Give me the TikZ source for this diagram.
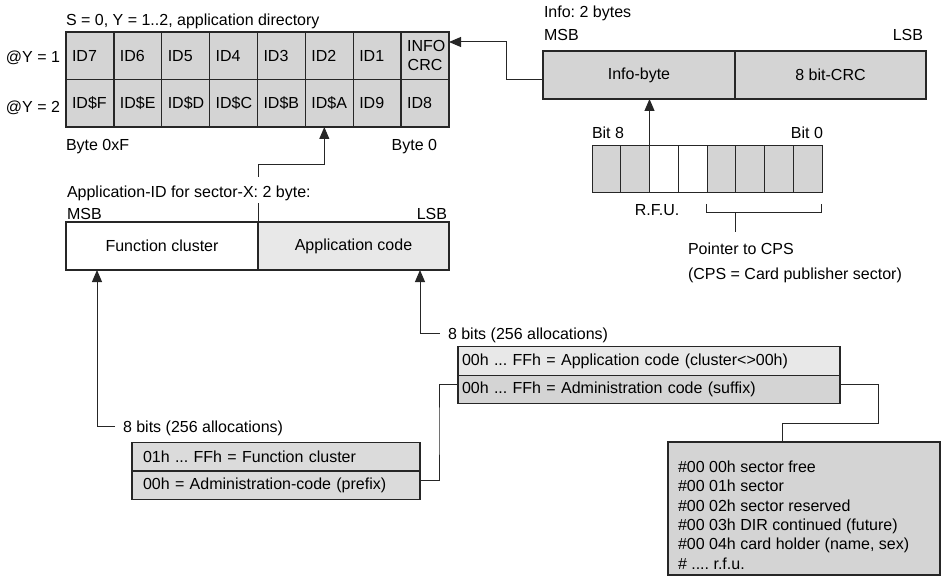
\documentclass[tikz,border=0pt]{standalone}
\usepackage{fontspec}
\setmainfont{Liberation Sans}
\usetikzlibrary{arrows.meta,calc}
\definecolor{cellgray}{gray}{0.83}
\definecolor{lightgray}{gray}{0.91}
\definecolor{midgray}{gray}{0.86}
\definecolor{linecol}{gray}{0.15}
\frenchspacing
\begin{document}
\begin{tikzpicture}[x=1pt,y=-1pt,
  every node/.style={font=\fontsize{16}{19.3}\selectfont},
  box/.style={draw=linecol,line width=1.3pt,inner sep=0pt,outer sep=0pt},
  cell/.style={box,fill=cellgray,minimum width=47.875pt,minimum height=47.5pt,text width=35.875pt,inner xsep=6pt,align=left},
  bitcell/.style={box,line width=1pt,fill=cellgray,minimum width=28.75pt,minimum height=47pt},
  halfbox/.style={box,minimum height=48pt},
  rowbox/.style={box,minimum height=28.5pt,align=left},
  lbl/.style={inner sep=0pt,outer sep=0pt},
  conn/.style={line width=1pt,draw=linecol},
  arr/.style={conn,-{Triangle[length=12pt,width=10pt]}}
]
\useasboundingbox (0,0) rectangle (941,577);

% application directory grid
\foreach \t [count=\i] in {ID7,ID6,ID5,ID4,ID3,ID2,ID1}
  \node[cell] (a\i) at ({66+47.875*(\i-0.5)},55.75) {\t};
\node[cell,align=center] (a8) at ({66+47.875*7.5},55.75) {INFO\\CRC};
\foreach \t [count=\i] in {ID\$F,ID\$E,ID\$D,ID\$C,ID\$B,ID\$A,ID9,ID8}
  \node[cell] (b\i) at ({66+47.875*(\i-0.5)},103.25) {\t};

\node[lbl,anchor=base west] (ttl) at (66,26) {S = 0, Y = 1..2, application directory};
\node[lbl,anchor=base east] (y1) at (60,63) {@Y = 1};
\node[lbl,anchor=base east] (y2) at (60,112.5) {@Y = 2};
\node[lbl,anchor=base west] (bytef) at (66,151) {Byte 0xF};
\node[lbl,anchor=base east] (byte0) at (437,151) {Byte 0};

% info bytes
\node[lbl,anchor=base west] (info) at (544,18) {Info: 2 bytes};
\node[lbl,anchor=base west] (msb1) at (544,41) {MSB};
\node[lbl,anchor=base east] (lsb1) at (923,41) {LSB};
\node[halfbox,fill=cellgray,minimum width=192pt] (ib) at (639,75) {Info-byte};
\node[halfbox,fill=cellgray,minimum width=191pt] (crc) at (830.5,75) {8 bit-CRC};

% bits
\foreach \i in {1,...,8}
  \node[bitcell] (t\i) at ({592+28.75*(\i-0.5)},169.5) {};
\node[bitcell,fill=white] at (t3) {};
\node[bitcell,fill=white] at (t4) {};
\node[lbl,anchor=base west] (bit8) at (592,139) {Bit 8};
\node[lbl,anchor=base east] (bit0) at (823,139) {Bit 0};
\node[lbl,anchor=base] (rfu) at (657,215) {R.F.U.};
\node[lbl,anchor=base west] (ptr) at (688,254) {Pointer to CPS};
\node[lbl,anchor=base west] (cps) at (688,279) {(CPS = Card publisher sector)};

% bracket under bits 5..8
\draw[conn] (706,204) -- (706,213) -- (821,213) -- (821,204);
\draw[conn] (735,213) -- (735,232);

% connectors of the info part
\coordinate (k1) at (506,42);
\draw[arr] ([yshift=-5pt]ib.west) -| (k1) -- ([yshift=13.75pt]a8.east);
\draw[arr] (t2.north east) -- (t2.north east |- ib.south);

% application-ID
\node[halfbox,fill=white,minimum width=192pt] (fc) at (162,246) {Function cluster};
\node[halfbox,fill=lightgray,minimum width=191pt] (ac) at (353.5,246) {Application code};
\coordinate (k2) at (258,165);
\draw[arr] (fc.north east) -- (k2) -| ([xshift=-5pt]b6.south);
\node[lbl,anchor=base west,fill=white,inner xsep=2pt,text height=21pt,text depth=5pt] (aid) at (65,198) {Application-ID for sector-X: 2 byte:};
\node[lbl,anchor=base west] (msb2) at (67,219) {MSB};
\node[lbl,anchor=base east] (lsb2) at (447,219) {LSB};

% 8 bit labels and arrows
\node[lbl,anchor=base west] (l8a) at (123,432) {8 bits (256 allocations)};
\node[lbl,anchor=base west] (l8b) at (448,339) {8 bits (256 allocations)};
\draw[arr] ([xshift=-8pt,yshift=1.5pt]l8a.west) -| ([xshift=31pt]fc.south west);
\draw[arr] ([xshift=-8pt,yshift=1.5pt]l8b.west) -| ([xshift=-29pt]ac.south east);

% lower left box
\node[rowbox,fill=midgray,minimum width=288pt,text width=266pt,inner xsep=11pt] (lf) at (276,456.75) {01h ... FFh = Function cluster};
\node[rowbox,fill=midgray,minimum width=288pt,text width=266pt,inner xsep=11pt] (lp) at (276,485.25) {00h = Administration-code (prefix)};

% right box
\node[rowbox,fill=lightgray,minimum width=382pt,text width=374pt,inner xsep=4pt] (ra) at (649,361) {00h ... FFh = Application code (cluster<>00h)};
\node[rowbox,fill=cellgray,minimum width=382pt,text width=374pt,inner xsep=4pt] (rs) at (649,389.5) {00h ... FFh = Administration code (suffix)};

\coordinate (k3) at (439,430);
\draw[conn] ([yshift=5pt]lp.east) -| (k3) |- ([yshift=5pt]rs.west);

% big box
\node[box,fill=cellgray,minimum width=272pt,minimum height=133pt] (big) at (804,508.5) {};
\node[lbl,anchor=north west,align=left] (list) at (678,461) {\#00 00h sector free\\\#00 01h sector\\\#00 02h sector reserved\\\#00 03h DIR continued (future)\\\#00 04h card holder (name, sex)\\\# .... r.f.u.};
\coordinate (k4) at (878,423);
\coordinate (k5) at (782,423);
\draw[conn] ([yshift=5pt]rs.east) -| (k4) -- (k5) -- (k5 |- big.north);
\end{tikzpicture}
\end{document}
